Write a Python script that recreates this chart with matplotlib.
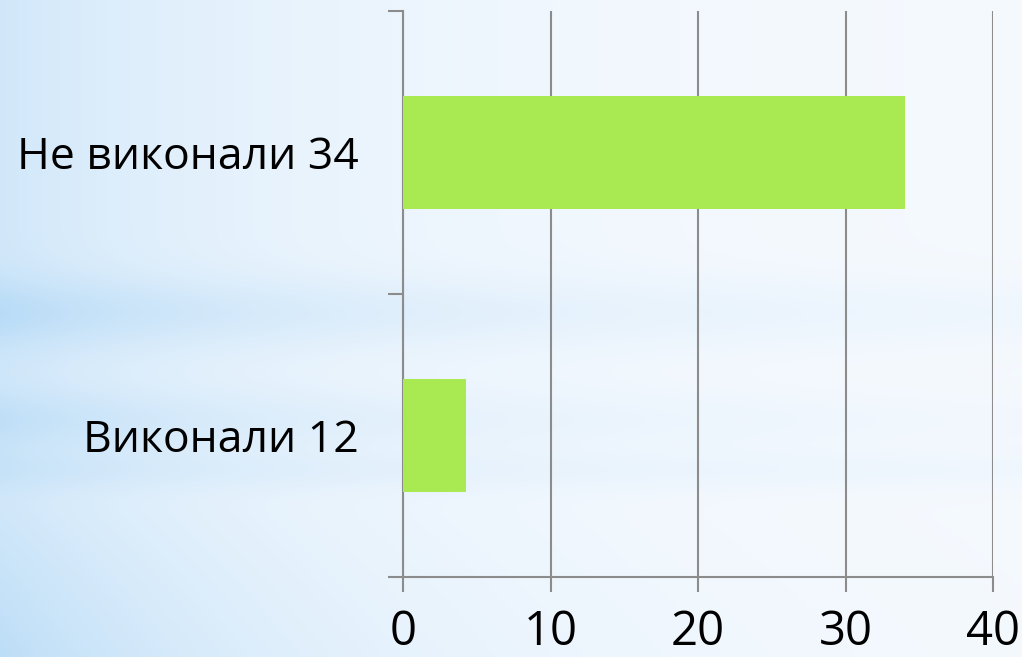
import numpy as np
import matplotlib.pyplot as plt

categories = ['Виконали 12', 'Не виконали 34']
values = [4.3, 34]
xticks = [0, 10, 20, 30, 40]

bar_color = '#a9ea52'
grid_color = '#8c8c8c'

plt.rcParams['font.family'] = ['Open Sans', 'DejaVu Sans']

fig = plt.figure(figsize=(10.22, 6.57), dpi=100)

# фон: світло-блакитний градієнт
H, W = 657, 1022
yy, xx = np.mgrid[0:H, 0:W]
w = 0.55 * np.exp(-xx / 300.0)
w += 0.35 * np.exp(-((yy - 312) / 35.0) ** 2) * np.exp(-xx / 700.0)
w += 0.25 * np.exp(-((yy - 420) / 30.0) ** 2) * np.exp(-xx / 600.0)
w += 0.15 * np.exp(-((yy - 470) / 20.0) ** 2) * np.exp(-xx / 1500.0)
w += 0.30 * np.clip((yy - 500) / 157.0, 0, 1) * np.exp(-xx / 350.0)
w = np.clip(w, 0, 1)
base = np.array([0.965, 0.980, 0.997])
blue = np.array([0.70, 0.85, 0.965])
img = base[None, None, :] * (1 - w[..., None]) + blue[None, None, :] * w[..., None]
bg = fig.add_axes([0, 0, 1, 1], zorder=0)
bg.imshow(img, aspect='auto', extent=[0, 1, 0, 1])
bg.axis('off')

ax = fig.add_axes([403 / 1022, 80 / 657, 590 / 1022, 566 / 657], zorder=1)
ax.patch.set_alpha(0)

y = np.arange(len(categories))
ax.barh(y, values, height=0.4, color=bar_color, zorder=3)

ax.set_xlim(0, 40)
ax.set_ylim(-0.5, 1.5)
ax.set_xticks(xticks)
ax.set_xticklabels([str(t) for t in xticks], fontsize=34)
ax.xaxis.grid(True, color=grid_color, linewidth=1.5)
ax.set_axisbelow(True)

ax.set_yticks([-0.5, 0.5, 1.5])
ax.set_yticklabels([])
ax.set_yticks(y, minor=True)
ax.set_yticklabels(categories, minor=True, fontsize=32)
ax.tick_params(axis='y', which='minor', length=0, pad=32)
ax.tick_params(axis='y', which='major', length=11, width=1.5, color=grid_color)
ax.tick_params(axis='x', length=11, width=1.5, color=grid_color, pad=12)

for s in ['top', 'right']:
    ax.spines[s].set_visible(False)
for s in ['left', 'bottom']:
    ax.spines[s].set_color(grid_color)
    ax.spines[s].set_linewidth(1.5)

fig.savefig('out.png', dpi=100)
